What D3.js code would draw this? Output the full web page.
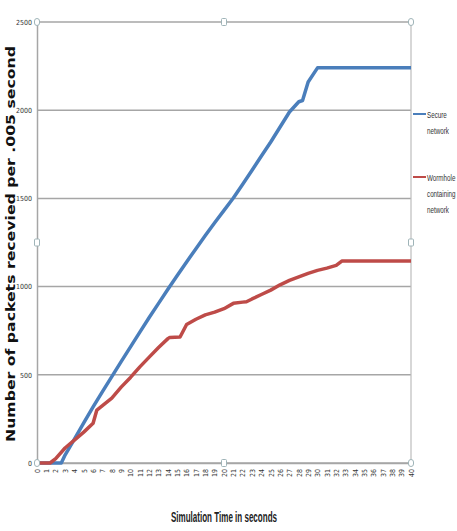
<!DOCTYPE html>
<html>
<head>
<meta charset="utf-8">
<script src="https://cdn.jsdelivr.net/npm/d3@7"></script>
<style>
  html, body { margin: 0; padding: 0; background: #fff; }
  svg { display: block; }
  .tick-label { font-family: "Liberation Sans Narrow", "DejaVu Sans Condensed", sans-serif; font-size: 7px; fill: #333; }
  .legend-text { font-family: "Liberation Sans", sans-serif; font-size: 9.5px; fill: #333; }
</style>
</head>
<body>
<div id="chart"></div>
<script>
// x axis categories (seconds)
var xTickLabels = d3.range(0, 41).map(String);
var yTickValues = [0, 500, 1000, 1500, 2000, 2500];

// Secure network
var secureTime = [0, 1, 2, 2.6, 3, 4, 5, 6, 7, 8, 9, 10, 11, 12, 13, 14, 15, 16, 17, 18, 19, 20,
                  21, 22, 23, 24, 25, 26, 27, 28, 28.4, 29, 30, 31, 32, 33, 34, 35, 36, 37, 38, 39, 40];
var secureValues = [0, 0, 0, 0, 45, 135, 228, 318, 405, 490, 575, 658, 742, 825, 905, 985, 1063, 1140, 1215, 1290, 1362, 1432,
                    1502, 1580, 1660, 1740, 1820, 1905, 1990, 2048, 2055, 2160, 2240, 2240, 2240, 2240, 2240, 2240, 2240, 2240, 2240, 2240, 2240];

// Wormhole containing network
var wormholeTime = [0, 1, 1.4, 2, 3, 3.5, 4, 5, 6, 6.4, 7, 8, 9, 10, 11, 12, 13, 14, 14.2, 15.3, 16, 17, 18, 19, 20,
                    21, 22, 22.4, 23, 24, 25, 26, 27, 28, 29, 30, 31, 32, 32.6, 33, 34, 35, 36, 37, 38, 39, 40];
var wormholeValues = [0, 0, 0, 25, 85, 108, 130, 175, 225, 300, 325, 368, 430, 485, 545, 600, 655, 705, 712, 714, 785, 815, 840, 855, 875,
                      905, 912, 914, 930, 955, 980, 1010, 1035, 1055, 1075, 1092, 1105, 1120, 1145, 1145, 1145, 1145, 1145, 1145, 1145, 1145, 1145];

var seriesColors = ["#4a7ebb", "#be4b48"];
var legendLines = [["Secure", "network"], ["Wormhole", "containing", "network"]];

var W = 457, H = 531;
var margin = {top: 22, right: 46, bottom: 68, left: 37};
var width = W - margin.left - margin.right,
    height = H - margin.top - margin.bottom;

var svg = d3.select("#chart").append("svg")
    .attr("width", W)
    .attr("height", H);

var g = svg.append("g")
    .attr("transform", "translate(" + margin.left + "," + margin.top + ")");

var x = d3.scaleLinear().domain([0, 40]).range([0, width]);
var y = d3.scaleLinear().domain([0, 2500]).range([height, 0]);

// gridlines
g.append("g")
    .selectAll("line")
    .data(yTickValues)
    .enter().append("line")
    .attr("x1", 0)
    .attr("x2", width)
    .attr("y1", function(d) { return y(d); })
    .attr("y2", function(d) { return y(d); })
    .attr("stroke", "#a6a6a6")
    .attr("stroke-width", 1.5);

// right border of plot area
g.append("line")
    .attr("x1", width).attr("x2", width)
    .attr("y1", 0).attr("y2", height)
    .attr("stroke", "#bcbcbc")
    .attr("stroke-width", 1.2);

// axes
var yAxis = d3.axisLeft(y).tickValues(yTickValues).tickSize(0).tickPadding(5)
    .tickFormat(d3.format("d"));
var yG = g.append("g").call(yAxis);
yG.select(".domain").attr("stroke", "#a6a6a6").attr("stroke-width", 1.5);
yG.selectAll("text").attr("class", "tick-label").attr("font-size", null).attr("font-family", null);

var xAxis = d3.axisBottom(x).tickValues(d3.range(0, 41)).tickSize(0)
    .tickFormat(function(d, i) { return xTickLabels[i]; });
var xG = g.append("g")
    .attr("transform", "translate(0," + height + ")")
    .call(xAxis);
xG.select(".domain").attr("stroke", "#a6a6a6").attr("stroke-width", 1.5);
xG.selectAll("text")
    .attr("class", "tick-label")
    .attr("font-size", null).attr("font-family", null)
    .style("text-anchor", "end")
    .attr("dx", "-6px")
    .attr("dy", "0.32em")
    .attr("y", 0)
    .attr("transform", "rotate(-90)");

// lines
var seriesData = [
    secureTime.map(function(t, i) { return [t, secureValues[i]]; }),
    wormholeTime.map(function(t, i) { return [t, wormholeValues[i]]; })
];

var line = d3.line()
    .x(function(d) { return x(d[0]); })
    .y(function(d) { return y(d[1]); });

g.selectAll(".series")
    .data(seriesData)
    .enter().append("path")
    .attr("class", "series")
    .attr("fill", "none")
    .attr("stroke", function(d, i) { return seriesColors[i]; })
    .attr("stroke-width", 3.5)
    .attr("stroke-linejoin", "round")
    .attr("d", line);

// selection handles of the plot area
var handles = [[0, 2500, "c"], [20, 2500, "s"], [40, 2500, "c"], [0, 1250, "s"], [40, 1250, "s"],
               [0, 0, "c"], [20, 0, "s"], [40, 0, "c"]];
g.selectAll(".handle")
    .data(handles)
    .enter().append("rect")
    .attr("class", "handle")
    .attr("x", function(d) { return x(d[0]) - 2.5; })
    .attr("y", function(d) { return y(d[1]) - 3.5; })
    .attr("width", 5)
    .attr("height", 7)
    .attr("rx", function(d) { return d[2] === "c" ? 2.5 : 1; })
    .attr("fill", "#fff")
    .attr("stroke", "#9fb4b8")
    .attr("stroke-width", 1);

// legend (narrow lettering, squeezed horizontally)
var legendY = [114, 177];
var legend = svg.append("g");
legendLines.forEach(function(lines, i) {
    legend.append("line")
        .attr("x1", 413).attr("x2", 426)
        .attr("y1", legendY[i]).attr("y2", legendY[i])
        .attr("stroke", seriesColors[i])
        .attr("stroke-width", 2);
    lines.forEach(function(s, j) {
        legend.append("text")
            .attr("class", "legend-text")
            .attr("transform", "translate(427," + (legendY[i] + 4 + j * 16) + ") scale(0.66,1)")
            .text(s);
    });
});

// axis titles
svg.append("text")
    .attr("x", 224)
    .attr("y", 522)
    .attr("text-anchor", "middle")
    .attr("font-family", "'Liberation Sans Narrow', sans-serif")
    .attr("font-weight", "bold")
    .attr("font-size", 14)
    .attr("textLength", 106)
    .attr("lengthAdjust", "spacingAndGlyphs")
    .attr("fill", "#222")
    .text("Simulation Time in seconds");

svg.append("text")
    .attr("transform", "translate(15,244) rotate(-90)")
    .attr("text-anchor", "middle")
    .attr("font-family", "'DejaVu Sans', sans-serif")
    .attr("font-weight", "bold")
    .attr("font-size", 12)
    .attr("textLength", 396)
    .attr("lengthAdjust", "spacingAndGlyphs")
    .attr("fill", "#111")
    .text("Number of packets recevied per .005 second");
</script>
</body>
</html>
